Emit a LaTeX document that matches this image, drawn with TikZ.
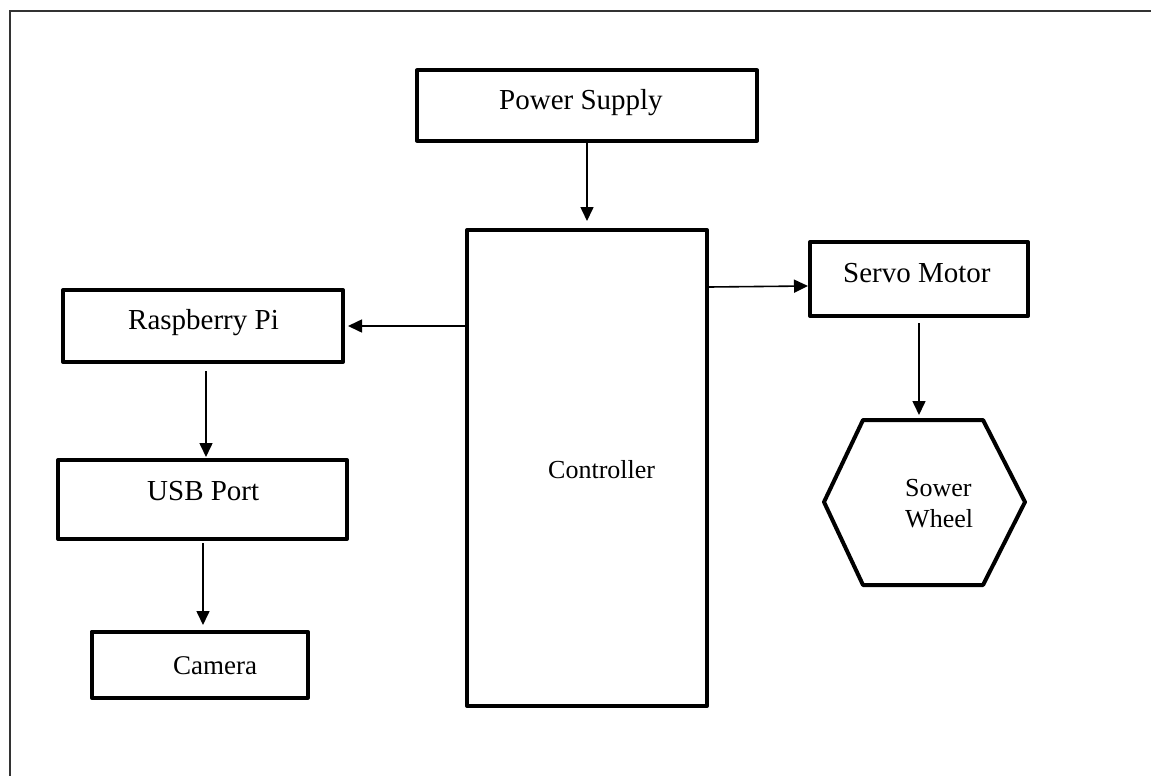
\documentclass[tikz,border=0pt]{standalone}
\usepackage{fontspec}
\setmainfont{Liberation Serif}
\usetikzlibrary{arrows.meta,calc}

\begin{document}
\begin{tikzpicture}[x=1pt, y=-1pt,
		blk/.style={draw, line width=4pt, line join=round, inner sep=0pt},
		lbl/.style={anchor=base west, inner sep=0pt, font=\fontsize{29}{34}\selectfont},
		small/.style={font=\fontsize{26}{30}\selectfont},
		arr/.style={line width=1.6pt, -{Triangle[length=14pt, width=13pt]}}]
		%%%%% START %%%%%
		
		\useasboundingbox (0,0) rectangle (1151,776);
		\draw[line width=2pt, color=black!80] (10,776) -- (10,11) -- (1151,11);
		
		\node[blk, minimum width=340pt, minimum height=70pt] (power) at (587,105.5) {};
		\node[blk, minimum width=240pt, minimum height=476pt] (ctrl) at (587,468) {};
		\node[blk, minimum width=218pt, minimum height=74pt] (servo) at (919,279) {};
		\node[blk, minimum width=280pt, minimum height=72pt] (rpi) at (203,326) {};
		\node[blk, minimum width=289pt, minimum height=79pt] (usb) at (202.5,499.5) {};
		\node[blk, minimum width=216pt, minimum height=66pt] (cam) at (199.7,664.7) {};
		
		\draw[line width=4pt, line join=round] (863,420) -- (983,420) -- (1025,502) -- (983,585) -- (863,585) -- (824,502) -- cycle;
		\coordinate (wheeltop) at (919,418);
		
		\node[lbl] (powerlbl) at (499,110) {Power Supply};
		\node[lbl, small] (ctrllbl) at (548,478) {Controller};
		\node[lbl] (servolbl) at (843,282) {Servo Motor};
		\node[lbl] (rpilbl) at (128,329) {Raspberry Pi};
		\node[lbl] (usblbl) at (147,500) {USB Port};
		\node[lbl, font=\fontsize{27}{32}\selectfont] (camlbl) at (173,674) {Camera};
		\node[lbl, small] (sowerlbl) at (905,496) {Sower};
		\node[lbl, small] (wheellbl) at (905,527) {Wheel};
		
		\draw[arr, shorten >=7pt] (power) -- (ctrl);
		\draw[arr, shorten >=3pt] (rpi.east -| ctrl.west) -- (rpi.east);
		\draw[arr] ($(ctrl.east |- servo.west)+(0,8)$) -- ($(servo.west)+(0,7)$);
		\draw[arr, shorten <=5pt, shorten >=3pt] (servo.south) -- (wheeltop);
		\draw[arr, shorten <=7pt, shorten >=1pt] ([xshift=3pt]rpi.south) -- ([xshift=3.5pt]usb.north);
		\draw[arr, shorten <=2pt, shorten >=4.7pt] ([xshift=0.5pt]usb.south) -- ([xshift=3.3pt]cam.north);
		
		%%%%% END %%%%%
	\end{tikzpicture}
\end{document}
